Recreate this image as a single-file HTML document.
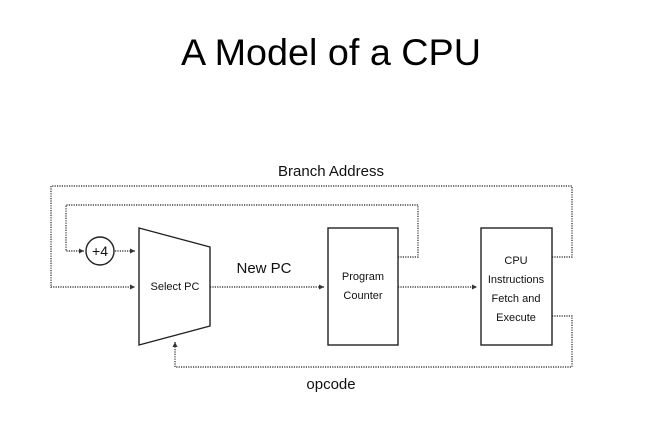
<!DOCTYPE html>
<html><head><meta charset="utf-8"><style>
html,body{margin:0;padding:0;background:#fff;}
svg{display:block;font-family:"Liberation Sans",sans-serif;}
</style></head><body>
<svg width="662" height="434" viewBox="0 0 662 434">
<defs><marker id="a" markerWidth="6" markerHeight="6" refX="5" refY="3" orient="auto" markerUnits="userSpaceOnUse"><path d="M0,0.5 L5,3 L0,5.5 z" fill="#333"/></marker></defs>
<text x="331" y="65" font-size="37" text-anchor="middle" textLength="300" lengthAdjust="spacingAndGlyphs" fill="#000">A Model of a CPU</text>
<text x="331" y="176" font-size="15" text-anchor="middle" fill="#111">Branch Address</text>
<text x="264" y="273" font-size="15" text-anchor="middle" fill="#111">New PC</text>
<text x="331" y="389" font-size="15" text-anchor="middle" fill="#111">opcode</text>
<g fill="none" stroke="#444" stroke-width="1.4" stroke-dasharray="1.2 1.2">
<path d="M552,257 H572 V186 H51 V287 H135" marker-end="url(#a)"/>
<path d="M398,257 H418 V205 H66 V251 H84" marker-end="url(#a)"/>
<path d="M115,251 H135" marker-end="url(#a)"/>
<path d="M210,287 H324" marker-end="url(#a)"/>
<path d="M398,287 H477" marker-end="url(#a)"/>
<path d="M552,316 H572 V367 H175 V342" marker-end="url(#a)"/>
</g>
<g fill="#fff" stroke="#222" stroke-width="1.4">
<circle cx="100" cy="251" r="14"/>
<path d="M139,228 L210,247 L210,326 L139,345 Z"/>
<rect x="328" y="228" width="70" height="117"/>
<rect x="481" y="228" width="71" height="117"/>
</g>
<g font-size="11" text-anchor="middle" fill="#111">
<text x="100" y="256" font-size="14">+4</text>
<text x="175" y="290">Select PC</text>
<text x="363" y="280">Program</text>
<text x="363" y="299">Counter</text>
<text x="516" y="264">CPU</text>
<text x="516" y="283">Instructions</text>
<text x="516" y="302">Fetch and</text>
<text x="516" y="321">Execute</text>
</g>
</svg>
</body></html>
